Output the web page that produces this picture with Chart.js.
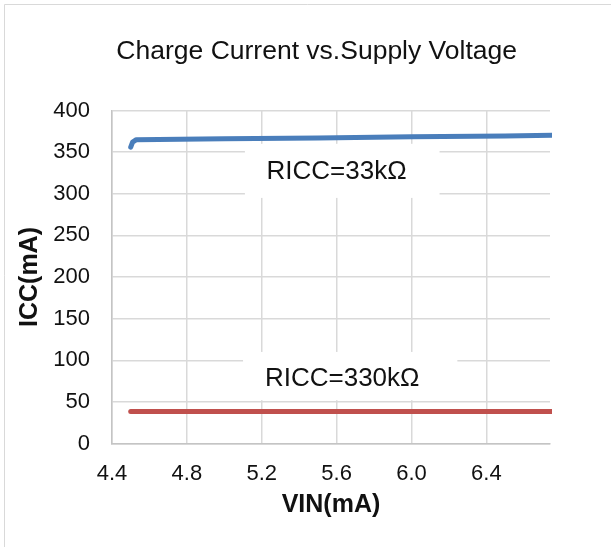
<!DOCTYPE html>
<html>
<head>
<meta charset="utf-8">
<style>
  html, body { margin: 0; padding: 0; background: #fff; }
  #wrap { position: relative; width: 611px; height: 547px; }
</style>
</head>
<body>
<div id="wrap"><canvas id="chart"></canvas></div>

<script src="https://cdn.jsdelivr.net/npm/chart.js"></script>

<script>
    // values
    const vin33 = [4.50, 4.51, 4.53, 5.00, 5.50, 6.00, 6.50, 6.76]
    const icc33 = [356, 362, 365, 366, 367, 368.5, 369.5, 370.3]
    const vin330 = [4.50, 5.00, 5.50, 6.00, 6.50, 6.75, 6.757]
    const icc330 = [38.5, 38.5, 38.5, 38.5, 38.5, 38.5, 14]

    const xTicks = [4.4, 4.8, 5.2, 5.6, 6.0, 6.4]
    const yTicks = [0, 50, 100, 150, 200, 250, 300, 350, 400]

    const noteTexts = ['RICC=33kΩ', 'RICC=330kΩ']

    // where the in-plot labels sit (data units)
    const notePlaces = [
        { x: 5.60, y: 326.5, box: [5.11, 6.15, 360, 295] },
        { x: 5.63, y: 77.5, box: [5.10, 6.245, 110, 52] }
    ]

    const font = "'Liberation Sans', Arial, sans-serif"

    const toPoints = (xs, ys) => xs.map((x, i) => ({ x, y: ys[i] }))

    const notesPlugin = {
        id: 'notes',
        beforeDraw(chart) {
            const ctx = chart.ctx
            ctx.save()
            ctx.strokeStyle = '#d9d9d9'
            ctx.lineWidth = 1
            ctx.beginPath()
            ctx.moveTo(4.5, chart.height)
            ctx.lineTo(4.5, 4.5)
            ctx.lineTo(chart.width, 4.5)
            ctx.stroke()
            ctx.restore()
        },
        beforeDatasetsDraw(chart) {
            const ctx = chart.ctx
            const xs = chart.scales.x, ys = chart.scales.y
            ctx.save()
            notePlaces.forEach((p, i) => {
                const [x0, x1, y0, y1] = p.box
                const l = xs.getPixelForValue(x0), r = xs.getPixelForValue(x1)
                const t = ys.getPixelForValue(y0), b = ys.getPixelForValue(y1)
                ctx.fillStyle = '#fff'
                ctx.fillRect(l, t, r - l, b - t)
                ctx.fillStyle = '#111'
                ctx.font = `26px ${font}`
                ctx.textAlign = 'center'
                ctx.textBaseline = 'middle'
                ctx.fillText(noteTexts[i], xs.getPixelForValue(p.x), ys.getPixelForValue(p.y))
            })
            ctx.restore()
        }
    }

    const lineStyle = {
        showLine: true,
        borderWidth: 5,
        borderCapStyle: 'round',
        borderJoinStyle: 'round',
        pointRadius: 0,
        tension: 0,
        clip: 2
    }

    new Chart(document.getElementById('chart'), {
        type: 'scatter',
        data: {
            datasets: [{
                ...lineStyle,
                label: 'RICC=33kΩ',
                data: toPoints(vin33, icc33),
                borderColor: '#4a7ebb'
            }, {
                ...lineStyle,
                label: 'RICC=330kΩ',
                data: toPoints(vin330, icc330),
                borderColor: '#c0504d'
            }]
        },
        options: {
            responsive: true,
            maintainAspectRatio: false,
            animation: false,
            layout: { padding: { left: 22.4, right: 0, top: 0, bottom: 0 } },
            plugins: {
                legend: { display: false },
                tooltip: { enabled: false },
                title: {
                    display: true,
                    text: 'Charge Current vs.Supply Voltage',
                    color: '#111',
                    font: { family: font, size: 26.5, weight: 'normal' },
                    padding: { top: 36, bottom: 42.7 }
                }
            },
            scales: {
                x: {
                    type: 'linear',
                    min: 4.4,
                    max: 6.74,
                    afterBuildTicks: s => { s.ticks = xTicks.map(v => ({ value: v })) },
                    afterFit: s => { s.height = 103.5 },
                    ticks: {
                        color: '#111',
                        font: { family: font, size: 22 },
                        padding: 17,
                        maxRotation: 0,
                        callback: v => Number(v).toFixed(1)
                    },
                    grid: { color: '#d9d9d9', lineWidth: 1.5, drawTicks: false },
                    border: { color: '#c4c4c4', width: 1.5 },
                    title: {
                        display: true,
                        text: 'VIN(mA)',
                        color: '#111',
                        font: { family: font, size: 25, weight: 'bold' },
                        padding: { top: 0, bottom: 27 }
                    }
                },
                y: {
                    min: 0,
                    max: 400,
                    afterBuildTicks: s => { s.ticks = yTicks.map(v => ({ value: v })) },
                    afterFit: s => { s.width = 89.6 },
                    ticks: {
                        color: '#111',
                        font: { family: font, size: 22 },
                        padding: 22
                    },
                    grid: { color: '#d9d9d9', lineWidth: 1.5, drawTicks: false },
                    border: { color: '#c4c4c4', width: 1.5 },
                    title: {
                        display: true,
                        text: 'ICC(mA)',
                        color: '#111',
                        font: { family: font, size: 25, weight: 'bold' },
                        padding: { top: -7.4, bottom: 0 }
                    }
                },
                // empty strip on the right, keeps the plot edge where the picture has it
                side: {
                    axis: 'y',
                    position: 'right',
                    min: 0,
                    max: 400,
                    afterFit: s => { s.width = 61 },
                    ticks: { display: false },
                    grid: { display: false, drawTicks: false },
                    border: { display: false }
                }
            }
        },
        plugins: [notesPlugin]
    });
</script>
</body>
</html>
